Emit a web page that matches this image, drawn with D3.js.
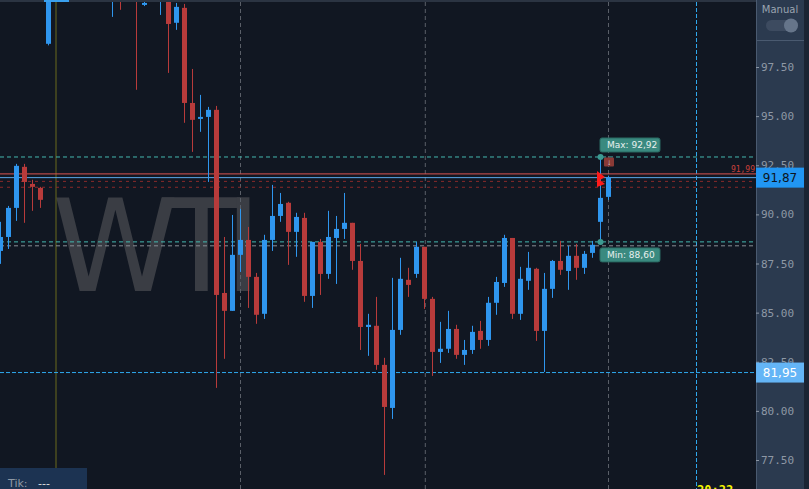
<!DOCTYPE html>
<html><head><meta charset="utf-8">
<script src="https://cdn.jsdelivr.net/npm/d3@7"></script>
<style>body{margin:0;background:#111722;overflow:hidden}svg{display:block}</style>
</head><body><svg id="c" width="809" height="489"></svg>
<script>
const opens = [88.14,88.85,90.33,92.42,91.55,91.35,98.68,101.4,101.2,102.3,101.5,101.9,101.3,101.6,101.1,101.8,101.2,101.0,100.66,101.0,101.0,101.5,99.75,100.51,95.67,94.86,94.96,95.32,86.00,85.09,87.94,88.70,86.82,84.94,88.70,89.92,90.59,89.11,89.82,85.85,88.60,86.97,88.80,89.26,89.57,87.63,84.27,84.33,82.34,80.15,84.12,86.67,86.97,88.35,85.70,83.00,83.16,84.17,82.85,83.10,84.07,83.61,85.50,86.51,88.80,84.94,86.62,87.23,84.07,86.21,87.63,87.12,87.89,87.28,88.04,89.62,90.89];
const highs = [89.62,90.43,92.57,92.57,91.76,91.40,101.89,102.5,102.8,102.6,102.1,102.4,102.0,101.9,101.9,102.0,101.7,101.3,101.2,101.7,101.8,101.8,100.76,100.71,97.40,96.08,95.47,95.52,88.85,89.97,90.28,89.36,87.02,88.96,91.50,91.09,90.64,90.08,90.08,88.60,88.75,90.18,89.92,91.09,89.57,88.50,84.94,85.80,82.70,86.77,87.79,87.28,88.60,88.35,85.80,84.53,85.09,84.38,83.61,84.33,84.58,85.80,86.82,88.96,88.80,87.33,88.09,87.28,87.02,87.68,88.65,88.40,88.50,88.14,88.65,92.92,91.97];
const lows = [87.48,88.24,89.67,89.57,90.18,90.33,98.6,101.0,101.0,101.1,101.2,101.1,101.0,101.1,100.05,100.41,100.95,96.34,100.6,100.95,100.15,97.20,99.39,94.66,93.18,94.20,91.65,81.17,82.65,85.09,87.07,85.24,84.43,84.68,88.14,89.62,87.43,87.84,85.55,85.24,85.90,86.72,86.46,88.75,87.18,83.10,82.80,82.09,76.74,79.59,83.87,85.80,86.77,85.19,81.78,82.44,82.95,82.65,82.34,82.90,83.16,83.31,84.89,86.31,84.68,84.63,86.16,83.56,81.98,85.75,86.92,86.16,86.67,86.97,87.79,88.60,90.74];
const closes = [88.85,90.33,92.47,91.65,91.40,90.74,101.38,101.2,102.3,101.5,101.9,101.3,101.6,101.1,101.6,101.2,101.0,100.95,100.76,101.4,101.5,99.69,100.56,95.67,94.81,94.96,95.32,85.90,85.09,87.94,88.70,86.82,84.89,88.70,89.92,90.53,89.11,89.87,85.85,88.60,86.97,88.85,89.26,89.57,87.63,84.27,84.38,82.34,80.20,84.12,86.72,86.41,88.35,85.70,83.00,83.16,84.17,82.85,83.10,84.02,83.61,85.50,86.56,88.80,84.94,86.72,87.28,84.07,86.21,87.63,87.18,87.89,87.28,87.99,88.45,90.84,91.87];
const priceTicks = [77.5,80,82.5,85,87.5,90,92.5,95,97.5];
const maxPrice = 92.92, minPrice = 88.60, lastPrice = 91.87, refPrice = 81.95, redPrice = 92.06;
const timeLines = [30, 53.1, 76]; // candle index of vertical dashed lines

const svg = d3.select('#c');
const W = 809, H = 489, plotR = 756;
const y = d3.scaleLinear().domain([77.5, 97.5]).range([460, 67]);
const x = d3.scaleLinear().domain([0, 76]).range([0.5, 608.5]);
const fmt = v => v.toFixed(2).replace('.', ',');
const blue = '#2f96ee', red = '#b83b3b';

const plot = svg.append('g');
plot.append('defs').append('clipPath').attr('id','cp').append('rect').attr('x',0).attr('y',2).attr('width',plotR).attr('height',H);
plot.append('text').attr('x',52).attr('y',291).attr('font-family','DejaVu Sans').attr('font-size',128)
  .attr('fill','#3a3d44').attr('textLength',210).text('WTI');
plot.append('line').attr('x1',56).attr('x2',56).attr('y1',2).attr('y2',H).attr('stroke','#6b6a1c').attr('stroke-width',1);
timeLines.forEach(t=>plot.append('line').attr('x1',x(t)).attr('x2',x(t)).attr('y1',2).attr('y2',H).attr('stroke','#5a5f68').attr('stroke-dasharray','4,3'));
plot.append('line').attr('x1',696.5).attr('x2',696.5).attr('y1',2).attr('y2',H).attr('stroke','#2fa8ee').attr('stroke-dasharray','4,2');
const hl = (p, c, dash, sw=1) => plot.append('line').attr('x1',0).attr('x2',plotR).attr('y1',y(p)).attr('y2',y(p)).attr('stroke',c).attr('stroke-width',sw).attr('stroke-dasharray',dash);
hl(maxPrice,'#44b8b0','4,3'); hl(minPrice,'#44b8b0','4,3'); hl(88.40,'#8a8f96','4,3');
hl(redPrice,'#d9534f',null); hl(lastPrice,'#5aa8e8',null); hl(91.68,'#8b2a2a','3,4'); hl(91.38,'#8b2a2a','3,4');
hl(refPrice,'#2fa8ee','4,2');
const g = plot.append('g').attr('clip-path','url(#cp)');
d3.range(opens.length).forEach(i=>{
  const up = closes[i] >= opens[i], col = up ? blue : red;
  g.append('line').attr('x1',x(i)).attr('x2',x(i)).attr('y1',y(highs[i])).attr('y2',y(lows[i])).attr('stroke',col).attr('stroke-width',1);
  const t = y(Math.max(opens[i],closes[i])), b = y(Math.min(opens[i],closes[i]));
  g.append('rect').attr('x',x(i)-2.5).attr('y',t).attr('width',5).attr('height',Math.max(2,b-t)).attr('fill',col);
});
plot.append('circle').attr('cx',x(75)).attr('cy',y(maxPrice)).attr('r',3).attr('fill','#3d9a92');
plot.append('circle').attr('cx',x(75)).attr('cy',y(minPrice)).attr('r',3).attr('fill','#3d9a92');
const tag = (p, txt, dy) => {
  const yy = y(p)+dy;
  plot.append('rect').attr('x',600).attr('y',yy).attr('width',60).attr('height',14).attr('rx',2).attr('fill','#3a8a80').attr('stroke','#2a6a62');
  plot.append('text').attr('x',607).attr('y',yy+10.5).attr('font-family','DejaVu Sans').attr('font-size',9).attr('fill','#e8f0ef').text(txt);
};
tag(maxPrice,'Max: '+fmt(maxPrice),-19); tag(minPrice,'Min: '+fmt(minPrice),6);
plot.append('rect').attr('x',604).attr('y',y(maxPrice)+0.5).attr('width',10).attr('height',9).attr('rx',1).attr('fill','#8a3a36');
plot.append('text').attr('x',609).attr('y',y(maxPrice)+8.5).attr('text-anchor','middle').attr('font-size',8).attr('fill','#ddd').text('↓');
plot.append('path').attr('d',`M597,${y(redPrice)-3} L605,${y(redPrice)+3} L600,${y(redPrice)+6} L605,${y(redPrice)+10} L597,${y(redPrice)+13} Z`).attr('fill','#ff1a1a');
plot.append('text').attr('x',755).attr('y',y(redPrice)-2).attr('text-anchor','end').attr('font-family','DejaVu Sans Mono').attr('font-size',8).attr('fill','#c9403c').text(fmt(91.99));
svg.append('rect').attr('x',0).attr('y',0).attr('width',W).attr('height',2).attr('fill','#2b3442');
svg.append('rect').attr('x',44).attr('y',0).attr('width',25).attr('height',2).attr('fill','#3aa0ee');
svg.append('rect').attr('x',plotR).attr('y',0).attr('width',48).attr('height',H).attr('fill','#2b3a4f');
svg.append('line').attr('x1',plotR+0.5).attr('x2',plotR+0.5).attr('y1',0).attr('y2',H).attr('stroke','#4a5a70');
svg.append('rect').attr('x',804).attr('y',0).attr('width',5).attr('height',H).attr('fill','#1b2433');
svg.append('line').attr('x1',plotR).attr('x2',804).attr('y1',40.5).attr('y2',40.5).attr('stroke','#4a5a70');
svg.append('text').attr('x',780).attr('y',13).attr('text-anchor','middle').attr('font-family','DejaVu Sans').attr('font-size',10).attr('fill','#9aa4b0').text('Manual');
svg.append('rect').attr('x',766).attr('y',20).attr('width',32).attr('height',11).attr('rx',5.5).attr('fill','#3d4b60');
svg.append('circle').attr('cx',791).attr('cy',25.5).attr('r',7).attr('fill','#66758a');
const ax = svg.append('g').attr('transform',`translate(${plotR},0)`).call(d3.axisRight(y).tickValues(priceTicks).tickSize(3).tickFormat(d3.format('.2f')));
ax.select('.domain').remove();
ax.selectAll('line').attr('stroke','#8a95a3');
ax.selectAll('text').attr('font-family','DejaVu Sans Mono').attr('font-size',11).attr('fill','#8e98a5').attr('x',5);
const box = (p, bg, fg) => {
  svg.append('rect').attr('x',plotR).attr('y',y(p)-10).attr('width',48).attr('height',20).attr('fill',bg);
  svg.append('text').attr('x',780).attr('y',y(p)+4.5).attr('text-anchor','middle').attr('font-family','DejaVu Sans').attr('font-size',12).attr('fill',fg).text(fmt(p));
};
box(refPrice,'#64b5f6','#ffffff'); box(lastPrice,'#2196f3','#0d1420');
svg.append('rect').attr('x',0).attr('y',468).attr('width',87).attr('height',21).attr('fill','#1c3352');
svg.append('text').attr('x',8).attr('y',487).attr('font-family','DejaVu Sans').attr('font-size',11).attr('fill','#8e98a5').text('Tik:');
svg.append('text').attr('x',38).attr('y',487).attr('font-family','DejaVu Sans').attr('font-size',11).attr('fill','#e0e0e0').text('---');
svg.append('text').attr('x',697).attr('y',494).attr('font-family','DejaVu Sans Mono').attr('font-size',12).attr('font-weight','bold').attr('fill','#f5f500').text('20:22');
</script></body></html>
